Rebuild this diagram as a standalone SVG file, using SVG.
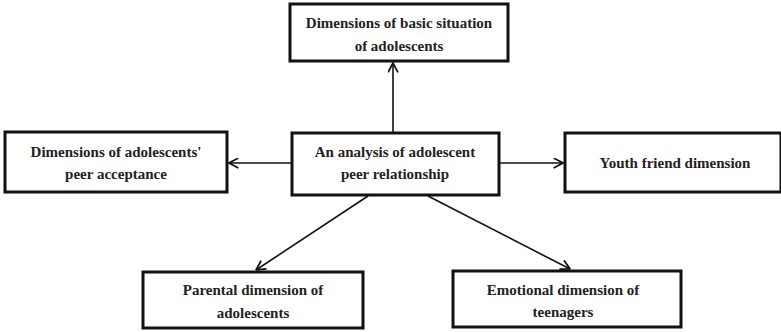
<svg xmlns="http://www.w3.org/2000/svg" width="781" height="332" viewBox="0 0 781 332">
<style>
.box{fill:#fff;stroke:#111;stroke-width:3}
.t{font-family:"Liberation Serif","Times New Roman",serif;font-weight:bold;font-size:15px;fill:#222;text-anchor:middle}
.c{stroke:#111;stroke-width:1.6;fill:none;marker-end:url(#ah)}
</style>
<defs>
<marker id="ah" viewBox="0 0 10 10" refX="9.5" refY="5" markerWidth="11" markerHeight="11" markerUnits="userSpaceOnUse" orient="auto">
<path d="M1,0.5 L9.5,5 L1,9.5" fill="none" stroke="#111" stroke-width="1.6"/>
</marker>
</defs>
<rect width="781" height="332" fill="#fff"/>
<g id="connectors">
<line class="c" x1="393" y1="132" x2="393" y2="63"/>
<line class="c" x1="291" y1="163" x2="229" y2="163"/>
<line class="c" x1="500" y1="163" x2="563" y2="163"/>
<line class="c" x1="368" y1="196" x2="256" y2="270"/>
<line class="c" x1="428" y1="196" x2="570" y2="269"/>
</g>
<g id="n-top">
<rect class="box" x="290" y="4" width="218" height="57"/>
<text class="t" x="399" y="28">Dimensions of basic situation</text>
<text class="t" x="399" y="51">of adolescents</text>
</g>
<g id="n-left">
<rect class="box" x="5" y="132" width="222" height="60"/>
<text class="t" x="116" y="157">Dimensions of adolescents'</text>
<text class="t" x="116" y="179">peer acceptance</text>
</g>
<g id="n-center">
<rect class="box" x="292" y="133" width="207" height="62"/>
<text class="t" x="395" y="157">An analysis of adolescent</text>
<text class="t" x="395" y="179">peer relationship</text>
</g>
<g id="n-right">
<rect class="box" x="565" y="133" width="216" height="59"/>
<text class="t" x="675" y="168">Youth friend dimension</text>
</g>
<g id="n-parental">
<rect class="box" x="143" y="272" width="220" height="56"/>
<text class="t" x="253" y="295">Parental dimension of</text>
<text class="t" x="253" y="318">adolescents</text>
</g>
<g id="n-emotional">
<rect class="box" x="453" y="271" width="228" height="56"/>
<text class="t" x="563" y="295">Emotional dimension of</text>
<text class="t" x="563" y="317">teenagers</text>
</g>
</svg>
